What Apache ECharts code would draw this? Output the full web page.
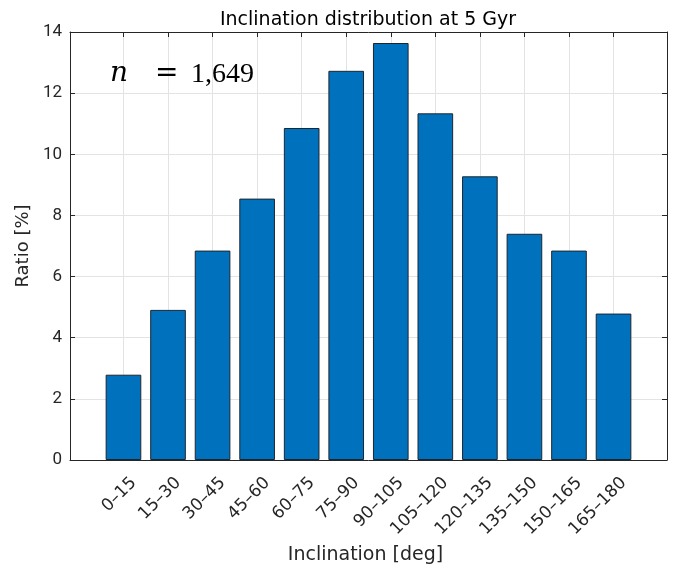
<!DOCTYPE html>
<html>
<head>
<meta charset="utf-8">
<script src="https://cdn.jsdelivr.net/npm/echarts@6/dist/echarts.min.js"></script>
<style>
  html, body { margin: 0; padding: 0; background: #ffffff; }
  #chart { width: 681px; height: 566px; }
</style>
</head>
<body>
<div id="chart"></div>
<script>
// Inclination bins (deg) and share of objects in each bin (%)
const categories = ['0–15', '15–30', '30–45', '45–60', '60–75', '75–90',
                    '90–105', '105–120', '120–135', '135–150', '150–165', '165–180'];
const ratios = [2.79, 4.91, 6.85, 8.55, 10.86, 12.73, 13.64, 11.34, 9.28, 7.40, 6.85, 4.79];
const yTicks = [0, 2, 4, 6, 8, 10, 12, 14];
const sampleSize = '1,649';

const positions = categories.map((_, i) => i + 1);

const axisColor = '#262626';
const gridColor = '#e3e3e3';
const uiFont = '"DejaVu Sans", "Noto Sans", sans-serif';

const chart = echarts.init(document.getElementById('chart'), null, { renderer: 'canvas' });

const xCommon = {
  type: 'value',
  min: -0.2,
  max: categories.length + 1.2,
  axisLine: { show: true, onZero: false, lineStyle: { color: axisColor, width: 1 } },
  axisTick: { show: true, inside: true, length: 5, customValues: positions,
              lineStyle: { color: axisColor } }
};

const yCommon = {
  type: 'value',
  min: yTicks[0],
  max: yTicks[yTicks.length - 1],
  interval: yTicks[1] - yTicks[0],
  axisLine: { show: true, onZero: false, lineStyle: { color: axisColor, width: 1 } },
  axisTick: { show: true, inside: true, length: 5, lineStyle: { color: axisColor } }
};

chart.setOption({
  animation: false,
  backgroundColor: '#ffffff',
  title: {
    text: 'Inclination distribution at 5 Gyr',
    left: 363,
    top: 6,
    textAlign: 'center',
    textStyle: { fontFamily: uiFont, fontSize: 19, fontWeight: 'normal', color: '#000000' }
  },
  grid: { left: 70, right: 14, top: 32, bottom: 106, containLabel: false, outerBoundsMode: 'none' },
  xAxis: [
    Object.assign({}, xCommon, {
      position: 'bottom',
      axisLabel: {
        customValues: positions,
        formatter: v => categories[Math.round(v) - 1] || '',
        rotate: 45,
        margin: 10,
        verticalAlign: 'top',
        padding: [6, 0, 0, 0],
        fontFamily: uiFont,
        fontSize: 17,
        color: axisColor
      },
      splitLine: { show: true, lineStyle: { color: gridColor, width: 1 } },
      name: 'Inclination [deg]',
      nameLocation: 'middle',
      nameGap: 86,
      nameTextStyle: { fontFamily: uiFont, fontSize: 19, color: axisColor, padding: [0, 6, 0, 0] }
    }),
    Object.assign({}, xCommon, {
      position: 'top',
      axisLabel: { show: false },
      splitLine: { show: false }
    })
  ],
  yAxis: [
    Object.assign({}, yCommon, {
      position: 'left',
      axisLabel: { margin: 8, fontFamily: 'Roboto, "Liberation Sans", sans-serif', fontSize: 17, color: axisColor },
      splitLine: { show: true, lineStyle: { color: gridColor, width: 1 } },
      name: 'Ratio [%]',
      nameLocation: 'middle',
      nameGap: 37,
      nameTextStyle: { fontFamily: uiFont, fontSize: 18, color: axisColor }
    }),
    Object.assign({}, yCommon, {
      position: 'right',
      axisLabel: { show: false },
      splitLine: { show: false }
    })
  ],
  series: [{
    type: 'bar',
    xAxisIndex: 0,
    yAxisIndex: 0,
    barWidth: '80%',
    data: ratios.map((v, i) => [positions[i], v]),
    itemStyle: { color: '#0072BD', borderColor: '#1c2630', borderWidth: 1 },
    z: 3
  }],
  graphic: [
    {
      type: 'text', left: 110, top: 60, z: 10,
      style: { text: 'n', font: 'italic 28px "DejaVu Serif", "Liberation Serif", serif', fill: '#000000' }
    },
    {
      type: 'text', left: 155, top: 60, z: 10,
      style: { text: '=', font: '28px "DejaVu Serif", "Liberation Serif", serif', fill: '#000000' }
    },
    {
      type: 'text', left: 191, top: 61, z: 10,
      style: { text: sampleSize, font: '28px "Liberation Serif", "DejaVu Serif", serif', fill: '#000000' }
    }
  ]
});
</script>
</body>
</html>
